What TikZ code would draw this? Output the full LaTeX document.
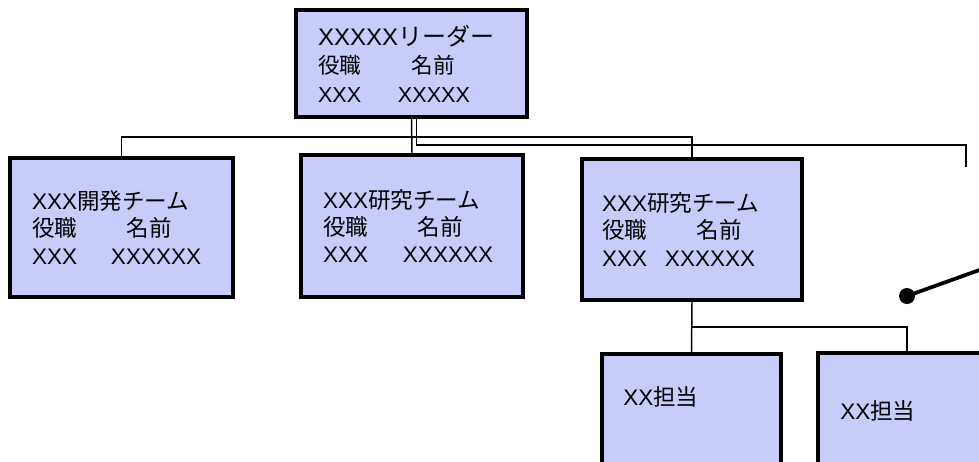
\documentclass[tikz,border=0pt]{standalone}
\usepackage{fontspec}
\setmainfont{Liberation Sans}
\newfontfamily\jp{Noto Sans CJK JP}
\newcommand\J[1]{{\jp #1}}
\usetikzlibrary{calc}
\definecolor{boxfill}{RGB}{200,204,250}
\begin{document}
\begin{tikzpicture}[x=0.75pt,y=-0.75pt,
  box/.style={draw=black, line width=2.6pt, fill=boxfill, rectangle, inner xsep=16.5pt, align=left,
    font=\fontsize{16.9}{20.6}\selectfont},
  conn/.style={line width=1.1pt, draw=black},
  lbl/.style={anchor=west, inner sep=0pt, font=\fontsize{16.9}{20.6}\selectfont}]
\useasboundingbox (0,0) rectangle (979,461);
\fill[white] (0,0) rectangle (979,461);
\clip (0,0) rectangle (979,461);

% boxes
\node[box, minimum width=173.25pt, minimum height=80.25pt, text width=140.25pt,
      font=\fontsize{16.2}{21.4}\selectfont] (top) at (411.5,63.5)
  {{\fontsize{18}{21.4}\selectfont XXXXX\J{リーダー}}\\
   \makebox[70.5pt][l]{\J{役職}}\J{名前}\\
   \makebox[60pt][l]{XXX}XXXXX};
\node[box, minimum width=167.25pt, minimum height=104.25pt, text width=134.25pt] (b1) at (121.5,227.5)
  {XXX\J{開発チーム}\\
   \makebox[71.25pt][l]{\J{役職}}\J{名前}\\
   \makebox[59.25pt][l]{XXX}XXXXXX};
\node[box, minimum width=166.5pt, minimum height=106.5pt, text width=133.5pt] (b2) at (412,226)
  {XXX\J{研究チーム}\\
   \makebox[71.25pt][l]{\J{役職}}\J{名前}\\
   \makebox[60pt][l]{XXX}XXXXXX};
\node[box, minimum width=165pt, minimum height=105.75pt, inner xsep=15pt, text width=135pt] (b3) at (692,229.5)
  {XXX\J{研究チーム}\\
   \makebox[71.25pt][l]{\J{役職}}\J{名前}\\
   \makebox[47.25pt][l]{XXX}XXXXXX};
\node[box, minimum width=134.25pt, minimum height=94.5pt] (b4) at (691.5,417) {};
\node[box, minimum width=133.5pt, minimum height=95.25pt] (b5) at (907,416.5) {};
\node[lbl] (t4) at (623,397) {XX\J{担当}};
\node[lbl] (t5) at (840,411) {XX\J{担当}};

% connectors
\coordinate (bus1) at (412,137);
\draw[conn] (top.south) -- (b2.north);
\draw[conn] (b1.north) -- (b1.north |- bus1) -- (b3.north |- bus1) -- (b3.north);
\coordinate (c2) at (966,145);
\coordinate (e1) at (966,167);
\draw[conn] ([xshift=3.75pt]top.south) |- (c2) -- (e1);
\coordinate (bus3) at (692,327);
\draw[conn] (b3.south) -- (b4.north);
\draw[conn] (b3.south |- bus3) -| (b5.north);

% dot connector
\node[circle, fill=black, inner sep=0pt, minimum size=12pt] (dot) at (907,296) {};
\coordinate (e2) at (992,265.5);
\draw[line width=2.8pt] (dot.center) -- (e2);
\end{tikzpicture}
\end{document}
